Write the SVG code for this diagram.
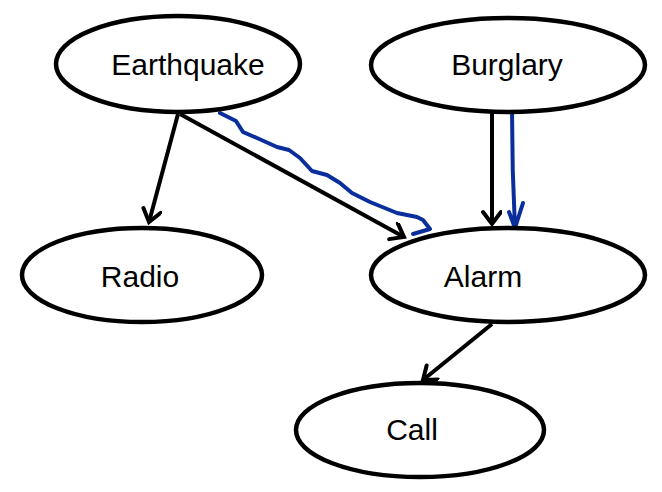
<svg xmlns="http://www.w3.org/2000/svg" width="662" height="492" viewBox="0 0 662 492">
<style>
.node ellipse{fill:#fff;stroke:#000;stroke-width:4.5}
.node text{font-family:"Liberation Sans",Arial,sans-serif;font-size:30px;fill:#000;text-anchor:middle}
.edge{stroke:#000;stroke-width:4;fill:none}
.blue{stroke:#0a2f9c;stroke-width:4;fill:none;stroke-linecap:round;stroke-linejoin:round}
</style>
<defs>
<marker id="ah" markerUnits="userSpaceOnUse" markerWidth="24" markerHeight="24" refX="18" refY="10" orient="auto">
<path d="M6,1 L18,10 L6,19" fill="none" stroke="#000" stroke-width="4" stroke-linecap="round"/>
</marker>
</defs>
<rect width="662" height="492" fill="#fff"/>
<g id="connectors">
<line class="edge" x1="178" y1="114" x2="149" y2="222" marker-end="url(#ah)"/>
<line class="edge" x1="180" y1="114" x2="404" y2="237" marker-end="url(#ah)"/>
<line class="edge" x1="492" y1="112" x2="492" y2="224" marker-end="url(#ah)"/>
<line class="edge" x1="492" y1="324" x2="423" y2="380" marker-end="url(#ah)"/>
<path class="blue" d="M220,113 L236,121 L243,132 L257,138 L277,147 L289,150 L300,158 L312,171 L327,175 L340,183 L352,193 L370,202 L397,213 L417,217 L423,220 L430,229 L413,234"/>
<path class="blue" d="M512,111 Q512,170 515,228 M509,212 L515,228 L523,203"/>
</g>
<g id="earthquake" class="node">
<ellipse cx="178" cy="64" rx="122" ry="48"/>
<text x="188" y="75">Earthquake</text>
</g>
<g id="burglary" class="node">
<ellipse cx="508" cy="65" rx="137" ry="47"/>
<text x="507" y="75">Burglary</text>
</g>
<g id="radio" class="node">
<ellipse cx="142" cy="275" rx="120" ry="47"/>
<text x="140" y="287">Radio</text>
</g>
<g id="alarm" class="node">
<ellipse cx="508" cy="275" rx="137" ry="47"/>
<text x="483" y="287">Alarm</text>
</g>
<g id="call" class="node">
<ellipse cx="420" cy="430" rx="124" ry="47"/>
<text x="412" y="440">Call</text>
</g>
</svg>
